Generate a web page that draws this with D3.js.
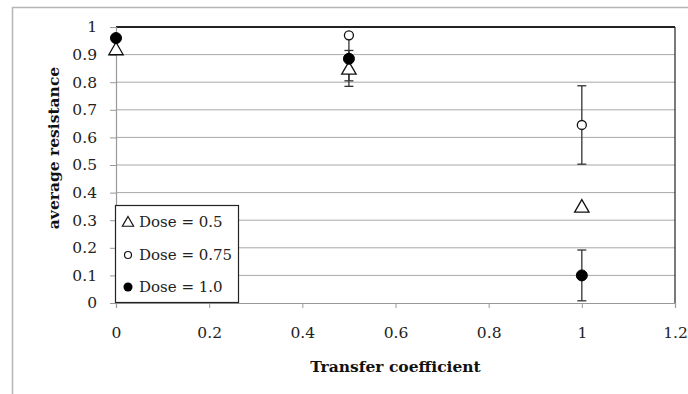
<!DOCTYPE html>
<html><head><meta charset="utf-8">
<script src="https://cdn.jsdelivr.net/npm/d3@7"></script>
<style>body{margin:0;background:#fff}svg{display:block}</style>
</head><body>
<svg id="c" width="688" height="394"></svg>
<script>
const xTicks = [0, 0.2, 0.4, 0.6, 0.8, 1, 1.2];
const yTicks = [0, 0.1, 0.2, 0.3, 0.4, 0.5, 0.6, 0.7, 0.8, 0.9, 1];
const transfer = [0, 0.5, 1];
const dose05 = [0.92, 0.85, 0.35];
const dose05Err = [0, 0.065, 0];
const dose075 = [0.96, 0.97, 0.645];
const dose075Err = [0, 0, 0.142];
const dose10 = [0.96, 0.885, 0.1];
const dose10Err = [0, 0.08, 0.092];
const legendLabels = ["Dose = 0.5", "Dose = 0.75", "Dose = 1.0"];

const svg = d3.select("#c");
const font = "DejaVu Serif";
const m = {l:116, r:675, t:27, b:303};
const x = d3.scaleLinear().domain([0,1.2]).range([m.l, m.r]);
const y = d3.scaleLinear().domain([0,1]).range([m.b, m.t]);

// outer frame
svg.append("path").attr("d","M12.5,394 L12.5,7.5 L688,7.5").attr("fill","none").attr("stroke","#b5b5b5").attr("stroke-width",1.5);

// gridlines
svg.append("g").selectAll("line").data(yTicks.slice(1,-1)).join("line")
  .attr("x1",m.l).attr("x2",m.r).attr("y1",d=>y(d)).attr("y2",d=>y(d))
  .attr("stroke","#a8a8a8").attr("stroke-width",1);

// top and right border
svg.append("line").attr("x1",m.l).attr("x2",m.r).attr("y1",y(1)).attr("y2",y(1)).attr("stroke","#222").attr("stroke-width",2);
svg.append("line").attr("x1",m.r).attr("x2",m.r).attr("y1",y(1)).attr("y2",y(0)).attr("stroke","#222").attr("stroke-width",1.2);

// axes
const yAxis = svg.append("g").attr("transform",`translate(${m.l},0)`)
  .call(d3.axisLeft(y).tickValues(yTicks).tickFormat(d=>d3.format("")(+d.toFixed(1))).tickSize(6).tickPadding(13));
const xAxis = svg.append("g").attr("transform",`translate(0,${m.b})`)
  .call(d3.axisBottom(x).tickValues(xTicks).tickFormat(d=>d3.format("")(+d.toFixed(1))).tickSize(5).tickPadding(19));
[yAxis,xAxis].forEach(g=>{
  g.select(".domain").attr("stroke","#999").attr("stroke-width",1.2);
  g.selectAll(".tick line").attr("stroke","#999");
  g.selectAll("text").attr("font-family",font).attr("font-size",15.5).attr("fill","#222");
});

// titles
svg.append("text").attr("x",(m.l+m.r)/2).attr("y",372).attr("text-anchor","middle")
  .attr("font-family",font).attr("font-weight","bold").attr("font-size",15.5).attr("fill","#111").text("Transfer coefficient");
svg.append("text").attr("transform",`translate(59,148) rotate(-90)`).attr("text-anchor","middle")
  .attr("font-family",font).attr("font-weight","bold").attr("font-size",15.5).attr("fill","#111").text("average resistance");

// error bars
function errBars(vals, errs){
  const g = svg.append("g").attr("stroke","#333").attr("stroke-width",1.3);
  transfer.forEach((t,i)=>{
    if(!errs[i]) return;
    const x0 = x(t), y1 = y(vals[i]+errs[i]), y2 = y(vals[i]-errs[i]);
    g.append("line").attr("x1",x0).attr("x2",x0).attr("y1",y1).attr("y2",y2);
    g.append("line").attr("x1",x0-4.5).attr("x2",x0+4.5).attr("y1",y1).attr("y2",y1);
    g.append("line").attr("x1",x0-4.5).attr("x2",x0+4.5).attr("y1",y2).attr("y2",y2);
  });
}
errBars(dose10, dose10Err);
errBars(dose05, dose05Err);
errBars(dose075, dose075Err);

const tri = d3.symbol().type(d3.symbolTriangle).size(90);
function drawTri(g, cx, cy){
  g.append("path").attr("d",tri()).attr("transform",`translate(${cx},${cy+1.5})`)
    .attr("fill","#fff").attr("stroke","#111").attr("stroke-width",1.3);
}
// series markers
const gM = svg.append("g");
transfer.forEach((t,i)=>drawTri(gM, x(t), y(dose05[i])));
gM.selectAll("circle.o").data(transfer).join("circle").attr("class","o")
  .attr("cx",d=>x(d)).attr("cy",(d,i)=>y(dose075[i])).attr("r",4.5)
  .attr("fill","#fff").attr("stroke","#111").attr("stroke-width",1.3);
gM.selectAll("circle.f").data(transfer).join("circle").attr("class","f")
  .attr("cx",d=>x(d)).attr("cy",(d,i)=>y(dose10[i])).attr("r",5.5)
  .attr("fill","#000").attr("stroke","#000");

// legend
const lg = svg.append("g");
lg.append("rect").attr("x",115.5).attr("y",205.5).attr("width",123).attr("height",97)
  .attr("fill","#fff").attr("stroke","#222").attr("stroke-width",1.2);
const ly = [222, 255, 287];
legendLabels.forEach((s,i)=>{
  lg.append("text").attr("x",139).attr("y",ly[i]+5).attr("font-family",font).attr("font-size",15).attr("fill","#222").text(s);
});
lg.append("path").attr("d",d3.symbol().type(d3.symbolTriangle).size(55)()).attr("transform",`translate(128,${ly[0]+1})`)
  .attr("fill","#fff").attr("stroke","#111").attr("stroke-width",1.2);
lg.append("circle").attr("cx",128).attr("cy",ly[1]).attr("r",3.5).attr("fill","#fff").attr("stroke","#111").attr("stroke-width",1.2);
lg.append("circle").attr("cx",128).attr("cy",ly[2]).attr("r",4.5).attr("fill","#000");
</script>
</body></html>
